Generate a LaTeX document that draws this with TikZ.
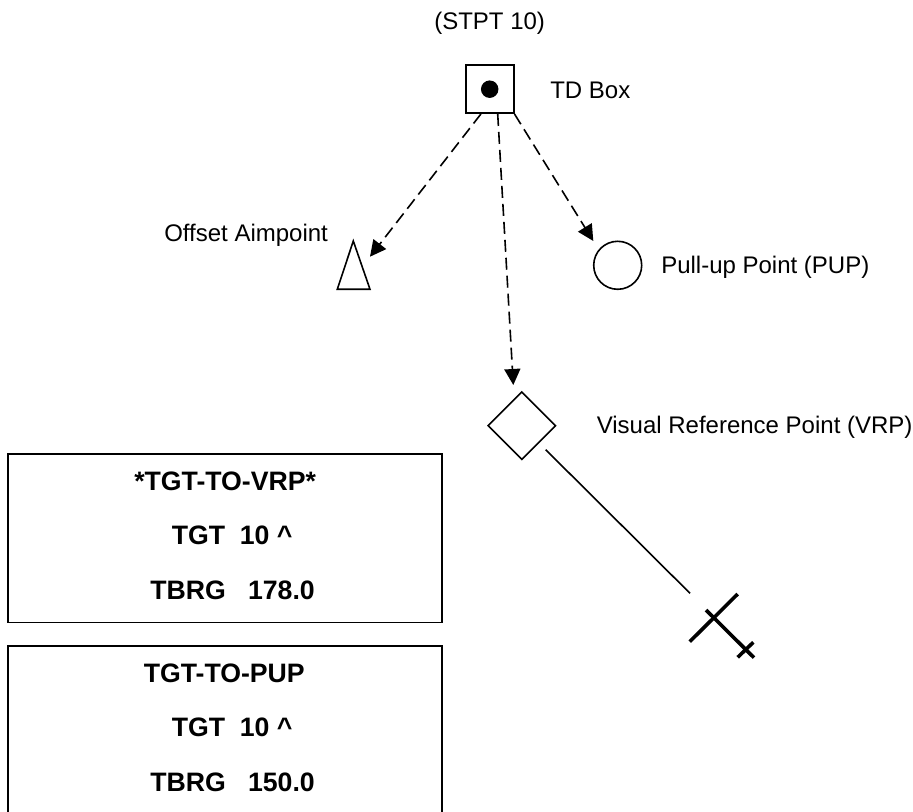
\documentclass[tikz,border=0pt]{standalone}
\usepackage{fontspec}
\setmainfont{Liberation Sans}
\usetikzlibrary{arrows.meta,shapes.geometric,calc}
\newlength{\du}
\setlength{\du}{0.75pt}
\tikzset{
  thinline/.style={line width=1.6\du,black},
  dashline/.style={thinline,dash pattern=on 12\du off 6\du,-{Triangle[length=12pt,width=12pt]}},
  crossline/.style={line width=3.6\du,black},
  figbox/.style={draw,thinline,rectangle,inner sep=0pt,minimum width=434\du},
  figlabel/.style={anchor=base west,inner sep=0pt,font=\fontsize{18}{22}\selectfont},
  boxline/.style={figlabel,font=\fontsize{20}{24}\selectfont\bfseries}
}
\begin{document}
\begin{tikzpicture}
\pgftransformxscale{1.000000}
\pgftransformyscale{-1.000000}
\useasboundingbox (0.000000\du,0.000000\du) rectangle (913.000000\du,812.000000\du);
% symbols
\node[draw,thinline,rectangle,inner sep=0pt,minimum size=48\du] (tdbox) at (489.700000\du,89.200000\du){};
\node[circle,fill=black,inner sep=0pt,minimum size=17.5\du] (tddot) at (tdbox.center){};
\node[draw,thinline,circle,inner sep=0pt,minimum size=48\du] (pup) at (617.700000\du,265.300000\du){};
\node[draw,thinline,diamond,inner sep=0pt,minimum size=68\du] (vrp) at (521.800000\du,425.700000\du){};
\coordinate (aimtop) at (353.300000\du,241.000000\du);
\coordinate (aimleft) at (337.300000\du,289.300000\du);
\coordinate (aimright) at (370.000000\du,289.300000\du);
\draw[thinline,miter limit=10] (aimtop)--(aimleft)--(aimright)--cycle;
% arrows out of the box
\coordinate (aimend) at (370.000000\du,256.700000\du);
\coordinate (pupend) at (593.300000\du,241.000000\du);
\coordinate (vrpend) at (513.300000\du,385.000000\du);
\draw[dashline] ([xshift=16\du]tdbox.south west)--(aimend);
\draw[dashline] ([xshift=8\du]tdbox.south)--(vrpend);
\draw[dashline] (tdbox.south east)--(pupend);
% target symbol
\coordinate (lineend) at (545.700000\du,449.700000\du);
\coordinate (linetip) at (690.000000\du,593.300000\du);
\coordinate (crossa) at (737.700000\du,594.000000\du);
\coordinate (crossb) at (689.700000\du,641.700000\du);
\coordinate (crossc) at (706.000000\du,610.000000\du);
\coordinate (crossd) at (754.000000\du,657.700000\du);
\coordinate (crosse) at (753.300000\du,642.300000\du);
\coordinate (crossf) at (737.700000\du,657.300000\du);
\draw[thinline] (lineend)--(linetip);
\draw[crossline] (crossa)--(crossb);
\draw[crossline] (crossc)--(crossd);
\draw[crossline] (crosse)--(crossf);
% labels
\node[figlabel] (stptlabel) at (434.000000\du,30.000000\du){(STPT 10)};
\node[figlabel] (tdlabel) at (550.000000\du,98.300000\du){TD Box};
\node[figlabel] (aimlabel) at (164.000000\du,241.700000\du){Offset Aimpoint};
\node[figlabel] (puplabel) at (661.000000\du,273.300000\du){Pull-up Point (PUP)};
\node[figlabel] (vrplabel) at (596.500000\du,433.300000\du){Visual Reference Point (VRP)};
% first page
\node[figbox,minimum height=168.700000\du] (vrpbox) at (225.200000\du,538.300000\du){};
\node[boxline] (vrptitle) at (134.000000\du,490.000000\du){*TGT-TO-VRP*};
\node[boxline] (vrptgt) at (171.500000\du,544.300000\du){TGT\ \ 10 \^{}};
\node[boxline] (vrpbrg) at (150.000000\du,599.300000\du){TBRG\ \ \ 178.0};
% second page
\node[figbox,minimum height=168.700000\du] (pupbox) at (225.200000\du,730.600000\du){};
\node[boxline] (puptitle) at (143.500000\du,682.000000\du){TGT-TO-PUP};
\node[boxline] (puptgt) at (171.500000\du,736.000000\du){TGT\ \ 10 \^{}};
\node[boxline] (pupbrg) at (150.000000\du,791.000000\du){TBRG\ \ \ 150.0};
\end{tikzpicture}
\end{document}
